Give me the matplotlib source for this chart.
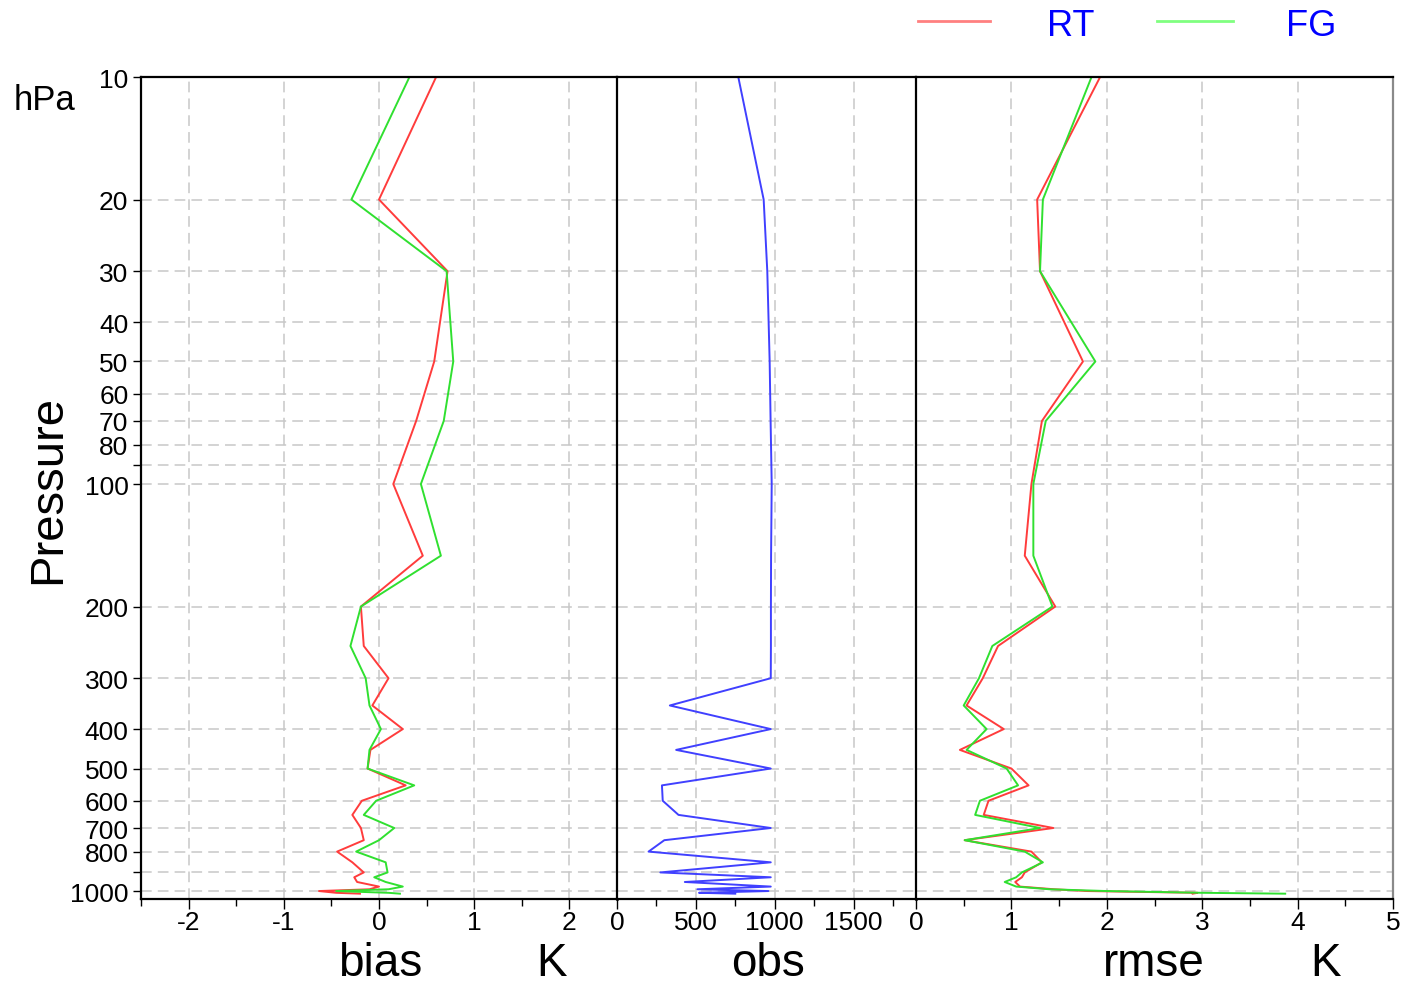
import matplotlib
matplotlib.use("Agg")
import matplotlib.pyplot as plt
from matplotlib.ticker import FixedLocator, NullFormatter

plt.rcParams['font.family'] = ['Liberation Sans', 'DejaVu Sans']
plt.rcParams['axes.unicode_minus'] = False

# pressure levels (hPa) and the verification profiles
levels = [10, 20, 30, 50, 70, 100, 150, 200, 250, 300, 350, 400, 450, 500, 550,
          600, 650, 700, 750, 800, 850, 900, 925, 950, 975, 990, 1000, 1010, 1015]

bias_rt = [0.60, 0.00, 0.72, 0.58, 0.39, 0.15, 0.46, -0.19, -0.16, 0.10, -0.07,
           0.25, -0.09, -0.12, 0.28, -0.18, -0.28, -0.19, -0.16, -0.44, -0.28,
           -0.16, -0.26, -0.23, 0.00, -0.10, -0.63, -0.45, -0.20]
bias_fg = [0.32, -0.29, 0.71, 0.78, 0.68, 0.44, 0.65, -0.19, -0.30, -0.14, -0.10,
           0.02, -0.10, -0.12, 0.37, -0.03, -0.16, 0.16, 0.00, -0.24, 0.07,
           0.09, -0.05, 0.07, 0.25, 0.10, -0.45, 0.10, 0.22]

obs = [769, 930, 953, 968, 974, 981, 977, 976, 976, 975, 335, 975, 375, 975, 285,
       290, 390, 975, 300, 200, 975, 275, 975, 430, 975, 510, 960, 520, 750]

rmse_rt = [1.93, 1.27, 1.30, 1.75, 1.32, 1.21, 1.14, 1.46, 0.86, 0.70, 0.53,
           0.92, 0.46, 1.00, 1.18, 0.76, 0.71, 1.44, 0.51, 1.21, 1.32,
           1.14, 1.11, 1.04, 1.09, 1.45, 1.80, 2.95, 2.90]
rmse_fg = [1.84, 1.33, 1.30, 1.88, 1.36, 1.23, 1.23, 1.43, 0.80, 0.66, 0.50,
           0.74, 0.53, 0.95, 1.07, 0.67, 0.62, 1.30, 0.51, 1.14, 1.33,
           1.11, 1.05, 0.93, 1.05, 1.40, 2.00, 3.00, 3.87]

ytick_vals = [10, 20, 30, 40, 50, 60, 70, 80, 90, 100, 200, 300, 400, 500,
              600, 700, 800, 900, 1000]
ytick_labels = ['10', '20', '30', '40', '50', '60', '70', '80', '', '100', '200',
                '300', '400', '500', '600', '700', '800', '', '1000']

RED = '#ff3c3c'
GREEN = '#30e030'
BLUE = '#4040ff'
GRID = '#c8c8c8'

W, H = 1406, 987
fig = plt.figure(figsize=(W / 100, H / 100), dpi=100)


def px_axes(x0, x1, y0=78, y1=900):
    return fig.add_axes([x0 / W, 1 - y1 / H, (x1 - x0) / W, (y1 - y0) / H])


ax1 = px_axes(141, 617)
ax2 = px_axes(617, 916)
ax3 = px_axes(916, 1393)

for ax in (ax1, ax2, ax3):
    ax.set_yscale('log')
    ax.set_ylim(1046, 10)
    ax.yaxis.set_major_locator(FixedLocator(ytick_vals))
    ax.yaxis.set_minor_locator(FixedLocator([]))
    ax.yaxis.set_minor_formatter(NullFormatter())
    ax.grid(True, which='major', color=GRID, linestyle=(0, (7, 4)), linewidth=1.1)
    ax.set_axisbelow(True)
    ax.tick_params(axis='x', which='major', direction='out', length=7, width=1,
                   labelsize=19, pad=1)
    ax.tick_params(axis='x', which='minor', direction='out', length=5, width=1)
    for s in ax.spines.values():
        s.set_color('black')
        s.set_linewidth(1.6)

ax1.set_yticklabels(ytick_labels)
ax1.tick_params(axis='y', direction='out', length=6, width=1, labelsize=19, pad=3)
for ax in (ax2, ax3):
    ax.tick_params(axis='y', length=0, labelleft=False)

# bias panel
ax1.plot(bias_rt, levels, color=RED, linewidth=1.4)
ax1.plot(bias_fg, levels, color=GREEN, linewidth=1.4)
ax1.set_xlim(-2.5, 2.5)
ax1.set_xticks([-2, -1, 0, 1, 2])
ax1.set_xticks([-2.5, -1.5, -0.5, 0.5, 1.5], minor=True)

# observation count panel
ax2.plot(obs, levels, color=BLUE, linewidth=1.4)
ax2.set_xlim(0, 1896)
ax2.set_xticks([0, 500, 1000, 1500])
ax2.set_xticks([250, 750, 1250, 1750], minor=True)

# rmse panel
ax3.plot(rmse_rt, levels, color=RED, linewidth=1.4)
ax3.plot(rmse_fg, levels, color=GREEN, linewidth=1.4)
ax3.set_xlim(0, 5)
ax3.set_xticks([0, 1, 2, 3, 4, 5])
ax3.set_xticks([0.5, 1.5, 2.5, 3.5, 4.5], minor=True)
ax3.spines['right'].set_color('#8a8a8a')

# panel separators a little heavier
ax1.spines['right'].set_linewidth(1.8)
ax2.spines['right'].set_linewidth(1.8)


def ftext(x, y, s, **kw):
    fig.text(x / W, 1 - y / H, s, **kw)


ftext(44, 100, 'hPa', fontsize=25, ha='center', va='center')
ftext(48, 489, 'Pressure', fontsize=34, rotation=90, ha='center', va='center')
ftext(380, 976, 'bias', fontsize=33, ha='center', va='baseline')
ftext(551, 976, 'K', fontsize=33, ha='center', va='baseline')
ftext(768, 976, 'obs', fontsize=33, ha='center', va='baseline')
ftext(1154, 976, 'rmse', fontsize=33, ha='center', va='baseline')
ftext(1326, 976, 'K', fontsize=33, ha='center', va='baseline')

# legend along the top
fig.add_artist(plt.Line2D([918 / W, 990 / W], [1 - 22 / H, 1 - 22 / H],
                          color='#ff8080', linewidth=2))
fig.add_artist(plt.Line2D([1157 / W, 1233 / W], [1 - 22 / H, 1 - 22 / H],
                          color='#80ff80', linewidth=2))
ftext(1071, 26, 'RT', fontsize=26, color='#0000ff', ha='center', va='center')
ftext(1311, 26, 'FG', fontsize=26, color='#0000ff', ha='center', va='center')

fig.savefig('out.png', dpi=100)
